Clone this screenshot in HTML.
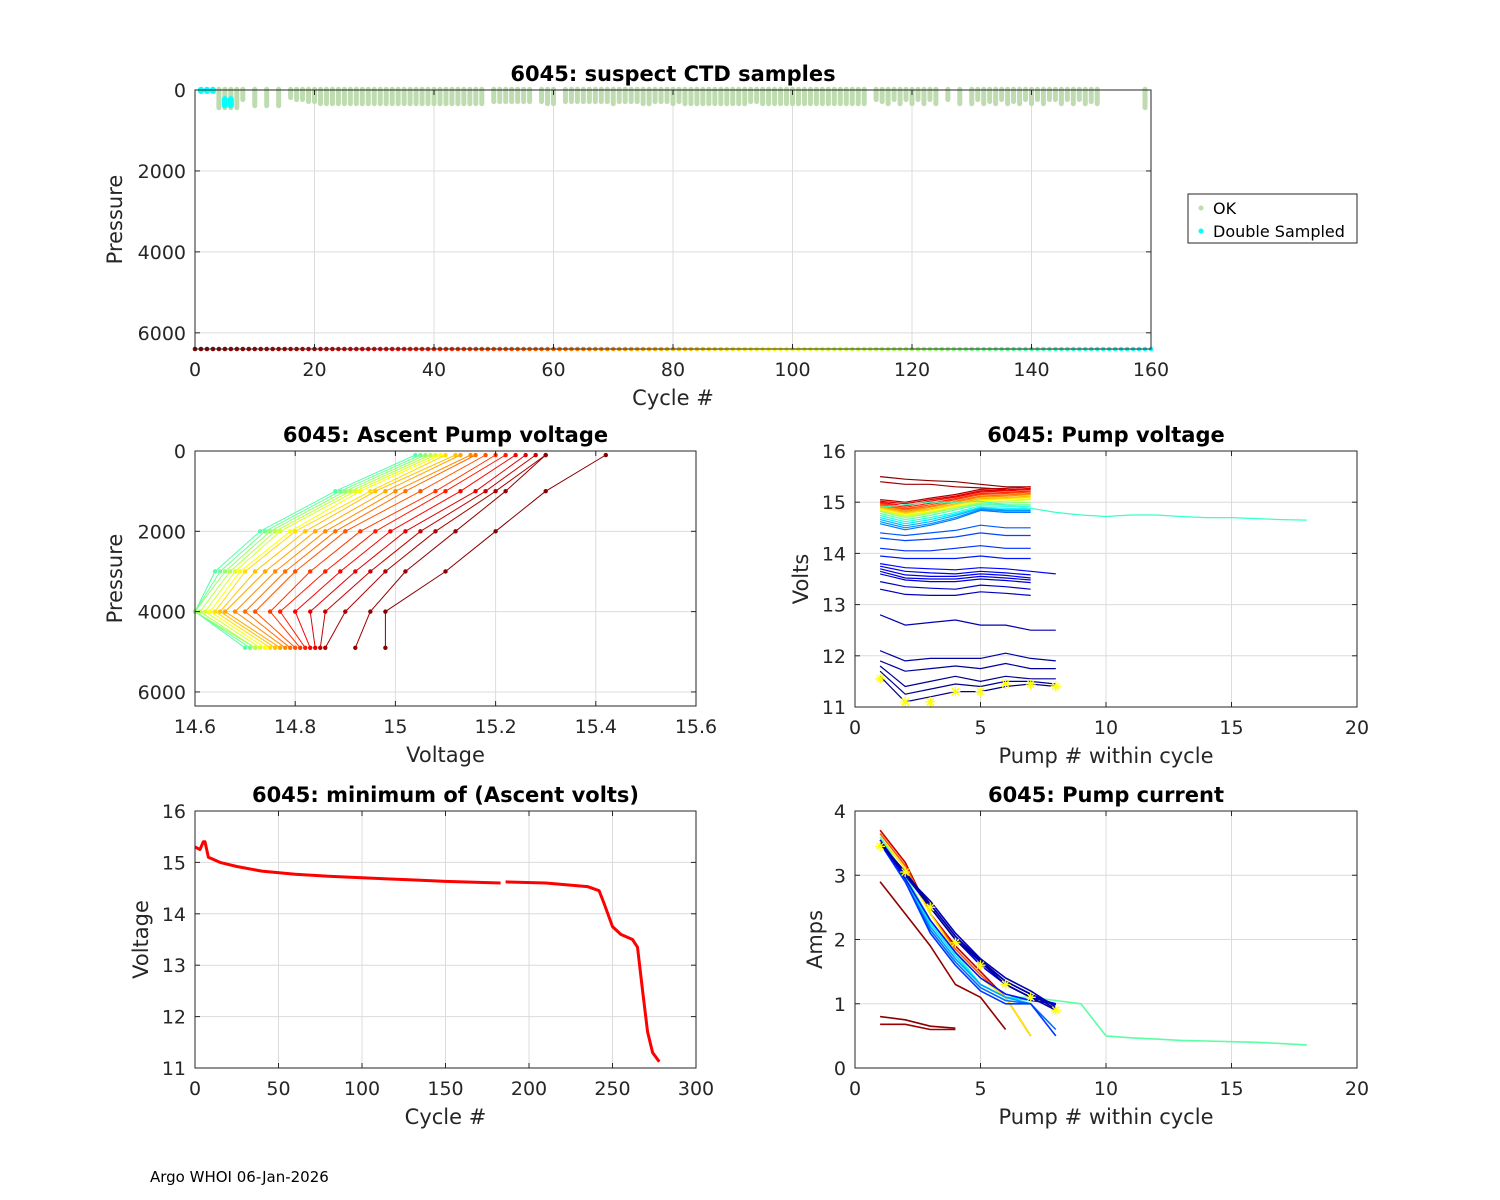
<!DOCTYPE html>
<html><head><meta charset="utf-8">
<style>
html,body{margin:0;padding:0;background:#fff;}
svg{display:block;font-family:"DejaVu Sans","Liberation Sans",sans-serif;}
</style></head>
<body>
<svg id="fig" width="1500" height="1200" viewBox="0 0 1500 1200" xmlns="http://www.w3.org/2000/svg">
<rect width="1500" height="1200" fill="#fff"/>
<text x="150" y="1182" font-size="15" fill="#000">Argo WHOI 06-Jan-2026</text>
</svg>
<script>
// ---------- DATA ----------
const okCycles = [4,5,6,7,8,10,12,14,16,17,18,19,20,21,22,23,24,25,26,27,28,29,30,31,32,33,34,35,36,37,38,39,40,41,42,43,44,45,46,47,48,50,51,52,53,54,55,56,58,59,60,62,63,64,65,66,67,68,69,70,71,72,73,74,75,76,77,78,79,80,81,82,83,84,85,86,87,88,89,90,91,92,93,94,95,96,97,98,99,100,101,102,103,104,105,106,107,108,109,110,111,112,114,115,116,117,118,119,120,121,122,123,124,126,128,130,131,132,133,134,135,136,137,138,139,140,141,142,143,144,145,146,147,148,149,150,151,159];
const okDepth  = [500,500,500,500,300,450,450,450,250,300,300,350,350,400,400,400,400,400,400,400,400,400,400,400,400,400,400,400,400,400,400,400,400,400,400,400,400,400,400,400,400,350,350,350,350,350,350,350,350,400,400,350,350,350,350,350,350,350,350,400,350,350,350,350,400,400,350,350,350,400,350,400,400,400,400,400,400,400,400,400,400,400,350,350,400,400,400,400,400,400,400,400,400,400,400,400,400,400,400,400,400,400,300,350,400,300,400,300,400,300,400,300,400,300,400,400,300,400,350,400,300,400,350,400,300,400,300,400,300,300,400,300,400,300,400,350,400,500];
const dblCycles = [1,2,3,5,6];
const dblDepth  = [100,100,100,450,450];
const cycleRow  = Array.from({length:161},(_,i)=>i);
const rowPressure = 6400;

const apLevels = [100,1000,2000,3000,4000,4900];
const apCycles = [2,6,12,20,28,36,44,52,60,68,76,84,92,100,110,120,130,140,150,158];
const apVolts = [
 [15.42,15.30,15.20,15.10,14.98,14.98],
 [15.30,15.22,15.12,15.02,14.95,14.92],
 [15.30,15.20,15.08,14.98,14.90,14.86],
 [15.28,15.18,15.05,14.95,14.86,14.85],
 [15.26,15.16,15.02,14.92,14.83,14.84],
 [15.24,15.13,14.99,14.89,14.80,14.83],
 [15.22,15.10,14.96,14.86,14.77,14.82],
 [15.20,15.08,14.93,14.83,14.75,14.81],
 [15.18,15.05,14.90,14.80,14.72,14.80],
 [15.16,15.02,14.88,14.78,14.70,14.79],
 [15.15,15.00,14.86,14.76,14.68,14.78],
 [15.13,14.98,14.84,14.74,14.66,14.77],
 [15.12,14.96,14.82,14.72,14.65,14.76],
 [15.10,14.95,14.80,14.70,14.64,14.75],
 [15.09,14.93,14.79,14.69,14.63,14.74],
 [15.08,14.92,14.77,14.68,14.62,14.73],
 [15.07,14.91,14.76,14.67,14.61,14.72],
 [15.06,14.90,14.75,14.66,14.60,14.72],
 [15.05,14.89,14.74,14.65,14.60,14.71],
 [15.04,14.88,14.73,14.64,14.60,14.70]];

const pvCycles = [3,8,15,25,35,45,55,65,75,85,95,105,120,135,150,165,180,195,205,212,220,226,232,238,244,248,251,254,257,260,263,266,270,272,274,276,278,160];
const pvVals = [
 [15.50,15.45,15.42,15.40,15.35,15.30,15.30],
 [15.40,15.35,15.35,15.30,15.28,15.25],
 [15.05,15.00,15.08,15.15,15.25,15.27,15.30],
 [15.02,14.97,15.05,15.12,15.22,15.24,15.27],
 [15.00,14.93,15.02,15.10,15.20,15.22,15.25],
 [14.98,14.90,14.98,15.07,15.17,15.19,15.22],
 [14.96,14.87,14.95,15.05,15.15,15.17,15.20],
 [14.94,14.85,14.92,15.02,15.12,15.14,15.17],
 [14.92,14.82,14.90,15.00,15.10,15.12,15.15],
 [14.90,14.80,14.87,14.97,15.07,15.09,15.12],
 [14.88,14.78,14.85,14.95,15.05,15.07,15.10],
 [14.86,14.75,14.82,14.92,15.03,15.05,15.07],
 [14.84,14.73,14.80,14.90,15.00,15.02,15.05],
 [14.82,14.70,14.78,14.88,14.98,14.98,15.00],
 [14.78,14.66,14.74,14.85,14.96,14.95,14.95],
 [14.74,14.62,14.70,14.80,14.93,14.92,14.92],
 [14.70,14.58,14.66,14.77,14.90,14.88,14.88],
 [14.66,14.54,14.62,14.74,14.88,14.85,14.85],
 [14.62,14.50,14.58,14.70,14.86,14.83,14.83],
 [14.58,14.46,14.55,14.67,14.84,14.80,14.80],
 [14.40,14.35,14.40,14.45,14.55,14.50,14.50],
 [14.30,14.25,14.28,14.32,14.40,14.35,14.35],
 [14.10,14.05,14.05,14.10,14.15,14.10,14.10],
 [13.95,13.90,13.90,13.90,13.95,13.90,13.90],
 [13.80,13.72,13.70,13.68,13.72,13.70,13.65,13.60],
 [13.75,13.65,13.62,13.60,13.65,13.62,13.58],
 [13.70,13.58,13.55,13.55,13.60,13.57,13.52],
 [13.65,13.52,13.50,13.50,13.55,13.52,13.48],
 [13.60,13.48,13.45,13.45,13.50,13.47,13.43],
 [13.45,13.35,13.32,13.30,13.38,13.35,13.30],
 [13.30,13.20,13.18,13.18,13.25,13.22,13.18],
 [12.80,12.60,12.65,12.70,12.60,12.60,12.50,12.50],
 [12.10,11.90,11.95,11.95,11.95,12.05,11.95,11.90],
 [11.90,11.70,11.75,11.80,11.75,11.85,11.75,11.75],
 [11.80,11.40,11.50,11.60,11.50,11.60,11.55,11.55],
 [11.70,11.25,11.35,11.45,11.40,11.50,11.50,11.45],
 [11.60,11.10,11.20,11.30,11.30,11.40,11.45,11.40],
 [14.90,14.95,15.00,15.00,15.02,14.95,14.88,14.80,14.75,14.72,14.75,14.75,14.72,14.70,14.70,14.68,14.66,14.65]];
const pvMinX = [1,2,3,4,5,6,7,8];
const pvMinY = [11.55,11.10,11.10,11.30,11.30,11.45,11.45,11.40];

const mvCycle = [0,3,5,6,8,15,25,40,60,80,100,130,150,183];
const mvVolt  = [15.3,15.25,15.4,15.4,15.1,15.0,14.92,14.83,14.77,14.73,14.70,14.66,14.63,14.60];
const mvCycle2 = [186,210,235,242,245,250,255,262,265,268,271,274,278];
const mvVolt2  = [14.62,14.60,14.53,14.45,14.20,13.75,13.60,13.50,13.35,12.50,11.70,11.30,11.12];

const pcCycles = [20,60,100,150,180,200,215,230,240,250,258,265,270,275,5,3,8];
const pcVals = [
 [3.70,3.20,2.40,1.90,1.50,1.10,0.50],
 [3.65,3.15,2.40,1.85,1.45,1.10,0.50],
 [3.60,3.10,2.40,1.80,1.40,1.10,0.50],
 [3.60,3.00,2.30,1.80,1.30,1.10,1.10,1.05,1.00,0.50,0.47,0.45,0.43,0.42,0.41,0.40,0.38,0.36],
 [3.55,2.95,2.25,1.75,1.30,1.10,1.05],
 [3.50,2.90,2.20,1.70,1.30,1.10,1.00],
 [3.50,2.90,2.15,1.65,1.25,1.05,1.00,0.60],
 [3.50,2.90,2.10,1.60,1.20,1.00,1.00,0.50],
 [3.50,2.95,2.30,1.80,1.40,1.15,1.05,1.00],
 [3.55,3.00,2.50,2.00,1.60,1.30,1.10,1.00],
 [3.50,3.00,2.55,2.05,1.65,1.35,1.15,0.98],
 [3.50,3.00,2.60,2.10,1.70,1.40,1.20,0.95],
 [3.50,3.05,2.55,2.05,1.68,1.35,1.15,0.92],
 [3.50,3.05,2.50,2.00,1.65,1.30,1.10,0.90],
 [2.90,2.40,1.90,1.30,1.10,0.60],
 [0.80,0.75,0.65,0.62],
 [0.68,0.68,0.60,0.60]];
const pcMinX = [1,2,3,4,5,6,7,8];
const pcMinY = [3.45,3.05,2.50,1.95,1.60,1.30,1.10,0.90];

// ---------- DRAWING ----------
const NS="http://www.w3.org/2000/svg";
const fig=document.getElementById('fig');
function mk(tag,attrs,parent){const e=document.createElementNS(NS,tag);for(const k in attrs)e.setAttribute(k,attrs[k]);(parent||fig).appendChild(e);return e;}
function jet(t){t=Math.max(0,Math.min(1,t));
 const r=Math.max(0,Math.min(1,1.5-Math.abs(4*t-3))),g=Math.max(0,Math.min(1,1.5-Math.abs(4*t-2))),b=Math.max(0,Math.min(1,1.5-Math.abs(4*t-1)));
 return `rgb(${Math.round(r*255)},${Math.round(g*255)},${Math.round(b*255)})`;}
const colTop=c=>jet(1-c/160*0.62);
const colAsc=c=>jet(1-c/160*0.55);
const colLow=c=>jet(1-c/280);

function makeAxes(o){
 const g=mk('g',{});
 
 
 const sx=v=>o.x0+(v-o.xd[0])/(o.xd[1]-o.xd[0])*(o.x1-o.x0);
 const sy=v=>o.yRev? o.y0+(v-o.yd[0])/(o.yd[1]-o.yd[0])*(o.y1-o.y0) : o.y1-(v-o.yd[0])/(o.yd[1]-o.yd[0])*(o.y1-o.y0);
 mk('rect',{x:o.x0,y:o.y0,width:o.x1-o.x0,height:o.y1-o.y0,fill:'#fff'},g);
 o.xt.forEach(v=>{const x=sx(v);mk('line',{x1:x,x2:x,y1:o.y0,y2:o.y1,stroke:'#dcdcdc','stroke-width':1},g);});
 o.yt.forEach(v=>{const y=sy(v);mk('line',{x1:o.x0,x2:o.x1,y1:y,y2:y,stroke:'#dcdcdc','stroke-width':1},g);});
 const plot=mk('g',{},g);
 
 
 o.sx=sx;o.sy=sy;o.plot=plot;o.g=g;
 return o;
}
function finishAxes(o){
 const g=o.g;
 mk('rect',{x:o.x0,y:o.y0,width:o.x1-o.x0,height:o.y1-o.y0,fill:'none',stroke:'#262626','stroke-width':1},g);
 o.xt.forEach(v=>{const x=o.sx(v);
  mk('line',{x1:x,x2:x,y1:o.y1,y2:o.y1-5,stroke:'#262626'},g);
  mk('line',{x1:x,x2:x,y1:o.y0,y2:o.y0+5,stroke:'#262626'},g);
  const t=mk('text',{x:x,y:o.y1+27,'font-size':19,'text-anchor':'middle',fill:'#262626'},g);t.textContent=String(v);
  
  });
 o.yt.forEach(v=>{const y=o.sy(v);
  mk('line',{x1:o.x0,x2:o.x0+5,y1:y,y2:y,stroke:'#262626'},g);
  mk('line',{x1:o.x1,x2:o.x1-5,y1:y,y2:y,stroke:'#262626'},g);
  const t=mk('text',{x:o.x0-9,y:y+7,'font-size':19,'text-anchor':'end',fill:'#262626'},g);t.textContent=String(v);
  
  });
 const tt=mk('text',{x:(o.x0+o.x1)/2,y:o.y0-9,'font-size':21,'font-weight':'bold','text-anchor':'middle',fill:'#000'},g);tt.textContent=o.title;
 
 
 const xl=mk('text',{x:(o.x0+o.x1)/2,y:o.y1+56,'font-size':21,'text-anchor':'middle',fill:'#262626'},g);xl.textContent=o.xl;
 
 
 const yx=o.ylx, yy=(o.y0+o.y1)/2;
 const yl=mk('text',{x:yx,y:yy,'font-size':21,'text-anchor':'middle',fill:'#262626',transform:`rotate(-90 ${yx} ${yy})`},g);yl.textContent=o.yl;
 
 
}
function poly(o,xs,ys,col,w){
 const pts=xs.map((x,i)=>o.sx(x).toFixed(1)+','+o.sy(ys[i]).toFixed(1)).join(' ');
 const p=mk('polyline',{points:pts,fill:'none',stroke:col,'stroke-width':w||1,'stroke-linejoin':'round'},o.plot);
 
 
 return p;
}
function star(o,x,y){
 const X=o.sx(x),Y=o.sy(y),s=5;
 const p=mk('path',{d:`M${X-s},${Y}H${X+s}M${X},${Y-s}V${Y+s}M${X-s*.7},${Y-s*.7}L${X+s*.7},${Y+s*.7}M${X-s*.7},${Y+s*.7}L${X+s*.7},${Y-s*.7}`,stroke:'#ffff00','stroke-width':1.3},o.plot);
 
 
}

// --- Top panel
const A1=makeAxes({name:'suspect-ctd-chart',x0:195,x1:1151,y0:90,y1:349,xd:[0,160],yd:[0,6400],yRev:true,xt:[0,20,40,60,80,100,120,140,160],yt:[0,2000,4000,6000],title:'6045: suspect CTD samples',xl:'Cycle #',yl:'Pressure',ylx:122});
okCycles.forEach((c,i)=>{
 const x=A1.sx(c);
 const r=mk('rect',{x:x-2.5,y:A1.sy(-80),width:5,height:A1.sy(okDepth[i])-A1.sy(-80),rx:2.5,fill:'#bedcb0'},A1.plot);
 
 
});
dblCycles.forEach((c,i)=>{
 const x=A1.sx(c);
 const top=dblDepth[i]>200?150:-80;
 const r=mk('rect',{x:x-3,y:A1.sy(top),width:6,height:A1.sy(dblDepth[i])-A1.sy(top),rx:3,fill:'#00ffff'},A1.plot);
 
 
});
cycleRow.forEach(c=>{
 const d=mk('circle',{cx:A1.sx(c),cy:A1.sy(rowPressure),r:2.3,fill:colTop(c)},A1.plot);
 
 
});
finishAxes(A1);
const lg=mk('g',{});


mk('rect',{x:1188,y:194,width:169,height:49,fill:'#fff',stroke:'#262626'},lg);
mk('circle',{cx:1201,cy:208,r:2.5,fill:'#bedcb0'},lg);
mk('circle',{cx:1201,cy:231,r:2.5,fill:'#00ffff'},lg);
let t1=mk('text',{x:1213,y:214,'font-size':16,fill:'#000'},lg);t1.textContent='OK';


let t2=mk('text',{x:1213,y:237,'font-size':16,fill:'#000'},lg);t2.textContent='Double Sampled';



// --- Ascent pump voltage
const A2=makeAxes({name:'ascent-pump-voltage-chart',x0:195,x1:696,y0:451,y1:706,xd:[14.6,15.6],yd:[0,6350],yRev:true,xt:[14.6,14.8,15,15.2,15.4,15.6],yt:[0,2000,4000,6000],title:'6045: Ascent Pump voltage',xl:'Voltage',yl:'Pressure',ylx:122});
apCycles.slice().reverse().forEach((c,ri)=>{
 const i=apCycles.length-1-ri;
 const col=colAsc(c);
 poly(A2,apVolts[i],apLevels,col,1);
 apVolts[i].forEach((v,j)=>{const d=mk('circle',{cx:A2.sx(v),cy:A2.sy(apLevels[j]),r:2.2,fill:col},A2.plot);
  
  });
});
finishAxes(A2);

// --- Pump voltage
const A3=makeAxes({name:'pump-voltage-chart',x0:855,x1:1357,y0:451,y1:707,xd:[0,20],yd:[11,16],xt:[0,5,10,15,20],yt:[11,12,13,14,15,16],title:'6045: Pump voltage',xl:'Pump # within cycle',yl:'Volts',ylx:808});
pvCycles.forEach((c,i)=>{poly(A3,pvVals[i].map((_,j)=>j+1),pvVals[i],colLow(c),1.2);});
pvMinX.forEach((x,i)=>star(A3,x,pvMinY[i]));
finishAxes(A3);

// --- Min ascent volts
const A4=makeAxes({name:'min-ascent-volts-chart',x0:195,x1:696,y0:811,y1:1068,xd:[0,300],yd:[11,16],xt:[0,50,100,150,200,250,300],yt:[11,12,13,14,15,16],title:'6045: minimum of (Ascent volts)',xl:'Cycle #',yl:'Voltage',ylx:148});
poly(A4,mvCycle,mvVolt,'#ff0000',3);
poly(A4,mvCycle2,mvVolt2,'#ff0000',3);
finishAxes(A4);

// --- Pump current
const A5=makeAxes({name:'pump-current-chart',x0:855,x1:1357,y0:811,y1:1068,xd:[0,20],yd:[0,4],xt:[0,5,10,15,20],yt:[0,1,2,3,4],title:'6045: Pump current',xl:'Pump # within cycle',yl:'Amps',ylx:822});
pcCycles.forEach((c,i)=>{poly(A5,pcVals[i].map((_,j)=>j+1),pcVals[i],colLow(c),1.6);});
pcMinX.forEach((x,i)=>star(A5,x,pcMinY[i]));
finishAxes(A5);
</script>
</body></html>
